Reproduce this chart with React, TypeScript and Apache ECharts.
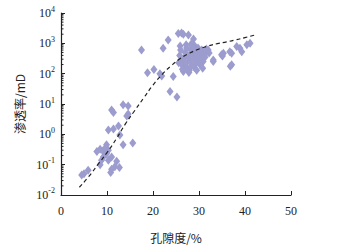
import React, { useEffect, useRef } from "react";
import * as echarts from "echarts";

const porosity: number[] = [
  4.5, 5.0, 5.9, 8.5, 7.8, 8.5, 9.1, 9.9, 9.6, 10.3, 9.9, 9.2, 11.0, 8.8, 10.3, 12.1,
  12.7, 11.7, 11.0, 10.8, 13.5, 15.6, 12.8, 10.3, 11.4, 12.5, 13.5, 14.6, 11.0, 11.4,
  14.3, 14.6, 23.7, 25.2,
  17.5, 18.8, 20.2, 21.5, 21.9, 22.2, 23.3, 24.4,
  25.5, 26.2, 26.6, 27.7, 28.8, 25.9, 27.2, 28.3, 29.0, 26.6, 27.9,
  30.6, 30.9, 31.7, 32.0, 33.1, 33.1, 35.3, 35.1, 34.9, 36.7, 37.1, 37.1, 36.8,
  38.2, 38.9, 39.3, 40.4, 41.1,
  25.8, 26.2, 26.5, 26.8, 27.0, 27.2, 27.5, 27.6, 28.0, 28.2, 28.4, 28.6, 28.8, 29.0,
  29.2, 29.4, 29.6, 29.8, 30.0, 30.2, 30.4, 30.6, 31.0, 31.3, 31.6, 32.2, 26.0, 27.3,
  28.5, 29.5, 30.8, 26.4, 25.6, 27.8, 29.9, 28.9,
];
const permeability: number[] = [
  0.046, 0.05, 0.066, 0.1, 0.27, 0.32, 0.28, 0.45, 0.35, 0.3, 0.23, 0.18, 0.18, 0.14, 0.14, 0.13,
  0.08, 0.085, 0.07, 0.055, 0.45, 0.52, 0.95, 1.4, 1.5, 1.9, 9.4, 8.6, 6.3, 5.2,
  4.0, 4.7, 26, 17,
  600, 107, 138, 100, 83, 690, 1300, 80,
  2100, 2200, 2000, 1900, 1400, 810, 900, 950, 850, 117, 130,
  316, 250, 520, 600, 280, 250, 470, 380, 420, 530, 470, 195, 175,
  780, 690, 525, 890, 1000,
  400, 250, 180, 330, 500, 220, 150, 380, 280, 600, 190, 420, 300, 160,
  550, 230, 350, 700, 450, 200, 300, 600, 400, 350, 650, 480, 600, 700,
  800, 130, 150, 140, 230, 110, 260, 650,
];

const trendX: number[] = [4, 6, 8, 10, 12, 14, 16, 18, 20, 22, 24, 26, 28, 30, 32, 34, 36, 38, 40, 42];
const trendY: number[] = [0.018, 0.04, 0.1, 0.25, 0.7, 2.2, 6, 16, 42, 95, 185, 320, 480, 650, 820, 980, 1120, 1300, 1550, 1850];

const decadeExponents = [-2, -1, 0, 1, 2, 3];
const minorMultipliers = [2, 3, 4, 5, 6, 7, 8, 9];

export default function App() {
  const ref = useRef<HTMLDivElement>(null);
  useEffect(() => {
    if (!ref.current) return;
    const chart = echarts.init(ref.current, null, { renderer: "svg" });
    const minorTicks: number[] = [];
    decadeExponents.forEach((e) => minorMultipliers.forEach((m) => minorTicks.push(m * Math.pow(10, e))));
    const serif = "Liberation Serif";
    chart.setOption({
      animation: false,
      grid: { left: 61, right: 47, top: 13, bottom: 53 },
      xAxis: {
        type: "value",
        min: 0,
        max: 50,
        interval: 10,
        name: "孔隙度/%",
        nameLocation: "middle",
        nameGap: 36,
        nameTextStyle: { fontFamily: "Noto Sans CJK SC", fontSize: 12, color: "#222" },
        axisLine: { lineStyle: { color: "#222", width: 1.2 } },
        axisTick: { inside: true, length: 4, lineStyle: { color: "#222" } },
        axisLabel: { fontFamily: serif, fontSize: 12, color: "#222", margin: 10 },
        splitLine: { show: false },
      },
      yAxis: {
        type: "log",
        logBase: 10,
        min: 0.01,
        max: 10000,
        name: "渗透率/mD",
        nameLocation: "middle",
        nameRotate: 90,
        nameGap: 34,
        nameTextStyle: { fontFamily: "Noto Sans CJK SC", fontSize: 12, color: "#222" },
        axisLine: { show: true, lineStyle: { color: "#222", width: 1.2 } },
        axisTick: { show: true, inside: true, length: 4, lineStyle: { color: "#222" } },
        axisLabel: {
          fontFamily: serif,
          fontSize: 12,
          color: "#222",
          margin: 6,
          formatter: (v: number) => `10{sup|${Math.round(Math.log10(v))}}`,
          rich: {
            sup: { fontFamily: serif, fontSize: 8, color: "#222", verticalAlign: "bottom", padding: [0, 0, 8, 0] },
          },
        },
        splitLine: { show: false },
      },
      series: [
        {
          type: "custom",
          silent: true,
          clip: false,
          data: minorTicks.map((v) => [0, v]),
          renderItem: (params: any, api: any) => {
            const p = api.coord([0, api.value(1)]);
            return {
              type: "line",
              shape: { x1: p[0], y1: p[1], x2: p[0] + 2.5, y2: p[1] },
              style: { stroke: "#222", lineWidth: 1 },
            };
          },
          z: 1,
        },
        {
          type: "scatter",
          symbol: "diamond",
          symbolSize: [7, 9],
          itemStyle: { color: "#9c9ccf", opacity: 1 },
          data: porosity.map((x, i) => [x, permeability[i]]),
          z: 2,
        },
        {
          type: "line",
          smooth: true,
          showSymbol: false,
          symbol: "none",
          lineStyle: { color: "#222", width: 1.2, type: [4, 3] },
          data: trendX.map((x, i) => [x, trendY[i]]),
          z: 3,
        },
      ],
    });
    return () => chart.dispose();
  }, []);
  return <div ref={ref} style={{ position: "absolute", left: 0, top: 0, width: 338, height: 248 }} />;
}
